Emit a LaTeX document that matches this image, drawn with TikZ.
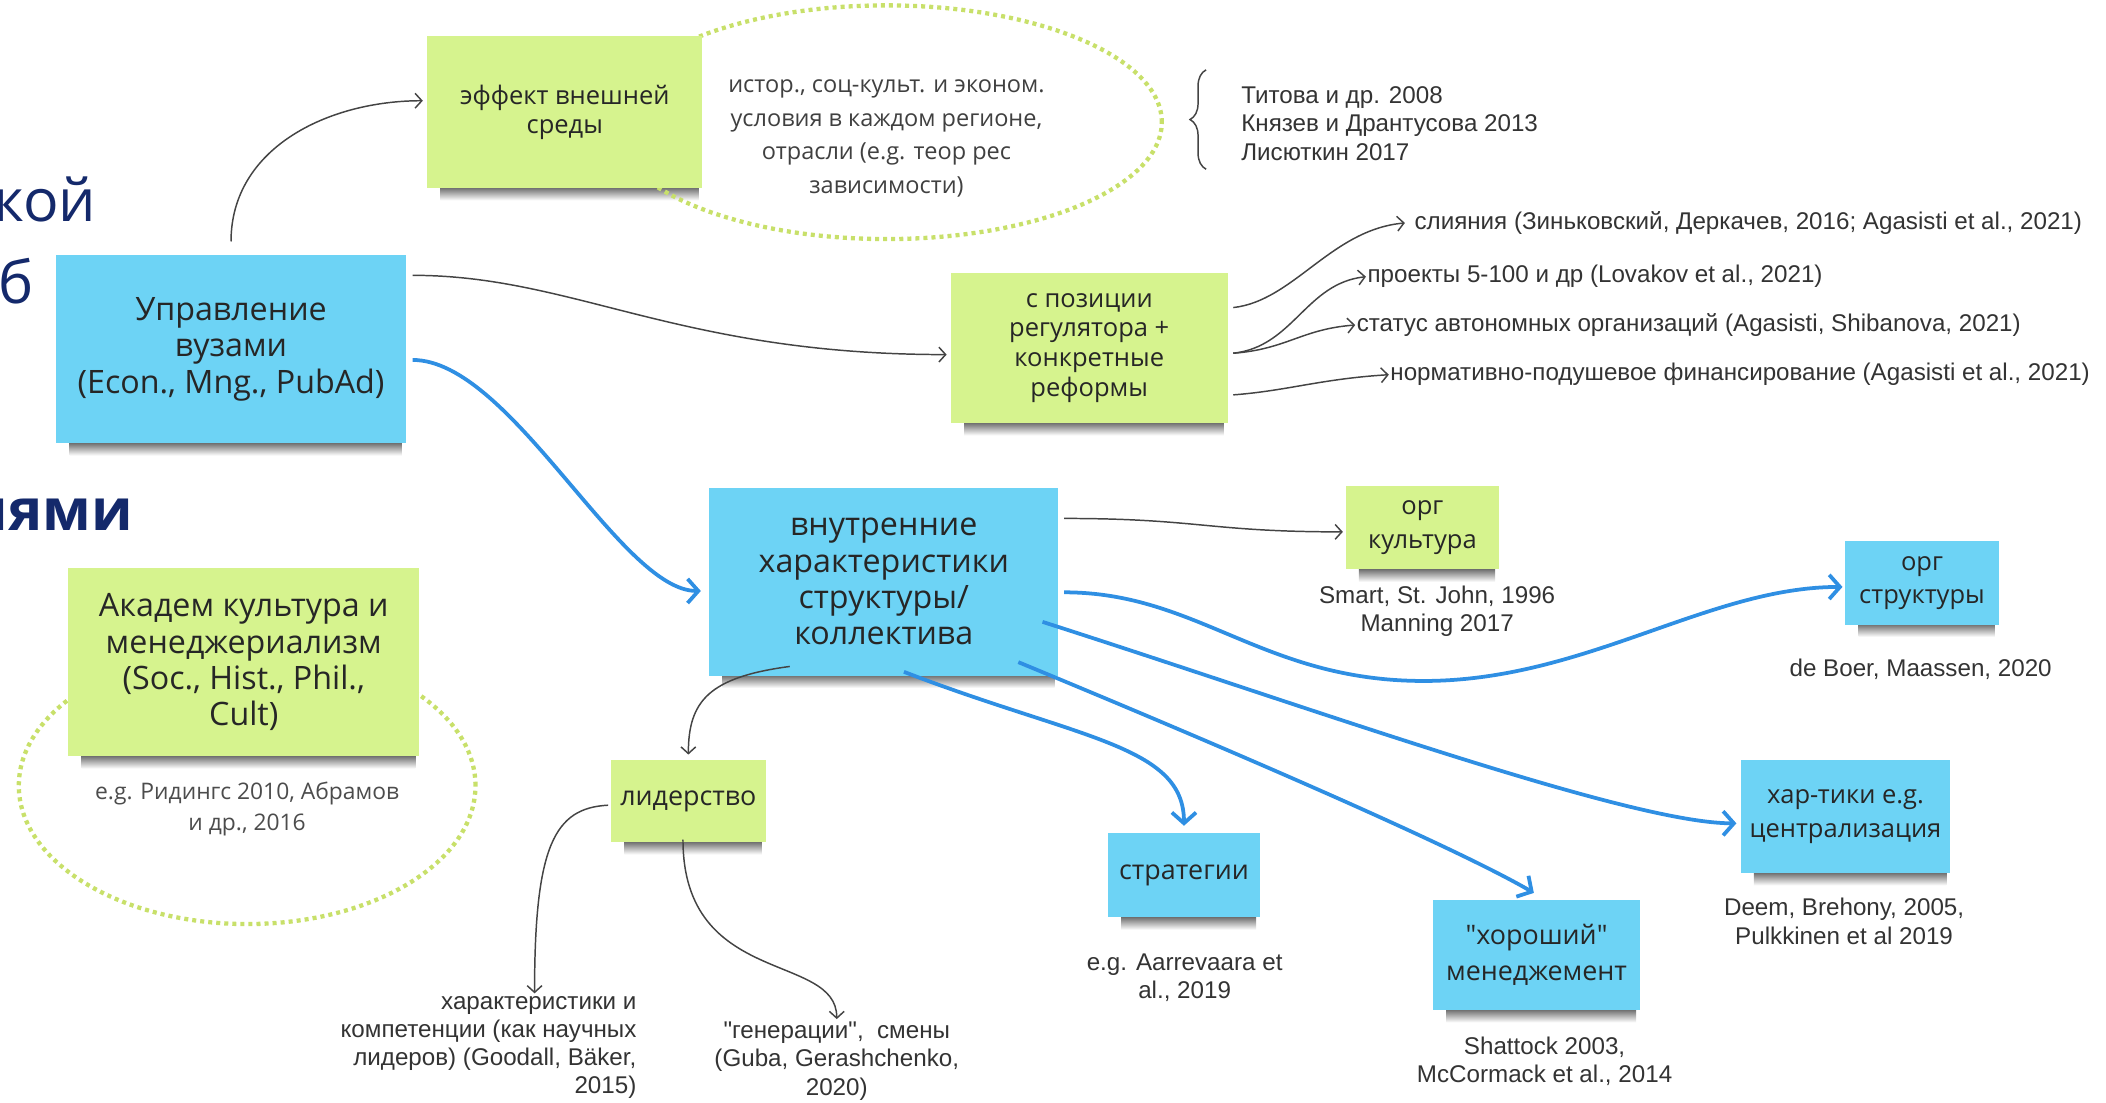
\documentclass[tikz,border=0pt]{standalone}
\usepackage{fontspec}
\setmainfont{Open Sans}
\newfontfamily\notefont{Open Sans}
\newfontfamily\labfont{Liberation Sans}
\usetikzlibrary{arrows.meta,decorations.pathreplacing,calc}
\definecolor{noteblue}{HTML}{6DD3F5}
\definecolor{notegreen}{HTML}{D6F38E}
\definecolor{dotgreen}{HTML}{C8E06A}
\definecolor{arrowblue}{HTML}{2F8FE3}
\definecolor{titlenavy}{HTML}{14296B}
\definecolor{inkgray}{HTML}{444444}
\pgfdeclarelayer{bg}
\pgfsetlayers{bg,main}
\newcommand\fs[2]{\fontsize{#1}{#2}\selectfont}
\newcommand\noteshadow[1]{\begin{pgfonlayer}{bg}\shade[top color=black!60,bottom color=white] ([xshift=10pt,yshift=1pt]#1.south west) rectangle ([xshift=-3pt,yshift=-9pt]#1.south east);\end{pgfonlayer}}
\tikzset{
 note/.style={align=center, inner sep=0pt, text=black!85},
 bluenote/.style={note, fill=noteblue},
 greennote/.style={note, fill=notegreen},
 lab/.style={align=center, inner sep=0pt, text=black!80, font=\labfont\fs{18}{21}},
 thinarrow/.style={draw=inkgray, line width=1.1pt, -{Straight Barb[length=5pt,width=11pt]}},
 bluearrow/.style={draw=arrowblue, line width=2.8pt, -{Straight Barb[length=8pt,width=18pt]}},
 dotellipse/.style={draw=dotgreen, line width=3.2pt, dash pattern=on 3pt off 3pt},
 titletext/.style={inner sep=0pt, text=titlenavy, anchor=base east},
}
\begin{document}
\begin{tikzpicture}[x=1pt,y=-1pt]
\useasboundingbox (0,0) rectangle (1568,821);
\clip (0,0) rectangle (1568,821);

% title fragments
\node[titletext, font=\fs{44}{44}] (t1) at (72,165) {кой};
\node[titletext, font=\fs{44}{44}] (t2) at (25,226) {б};
\node[titletext, font=\bfseries\fs{43}{43}] (t3) at (99,395) {иями};

% dotted ellipses
\draw[dotellipse] (660,91) ellipse [x radius=205pt, y radius=87pt];
\draw[dotellipse] (184,585) ellipse [x radius=170pt, y radius=103pt];

% notes
\node[bluenote, minimum width=260pt, minimum height=140pt, font=\fs{24}{27}] (upr) at (172,260) {Управление\\вузами\\(Econ., Mng., PubAd)};
\node[greennote, minimum width=205pt, minimum height=113pt, font=\fs{19}{22}] (eff) at (420.5,83.5) {эффект внешней\\среды};
\node[greennote, minimum width=206pt, minimum height=112pt, font=\fs{19}{22}] (reg) at (811,259) {с позиции\\регулятора +\\конкретные\\реформы};
\node[bluenote, minimum width=260pt, minimum height=140pt, font=\fs{24}{27}] (vnut) at (658,433) {внутренние\\характеристики\\структуры/\\коллектива};
\node[greennote, minimum width=114pt, minimum height=62pt, font=\fs{19}{25}] (kult) at (1059,393) {орг\\культура};
\node[bluenote, minimum width=114pt, minimum height=62pt, font=\fs{19}{25}] (struct) at (1431,434) {орг\\структуры};
\node[bluenote, minimum width=156pt, minimum height=84pt, font=\fs{19}{25}] (hart) at (1374,608) {хар-тики e.g.\\централизация};
\node[bluenote, minimum width=154pt, minimum height=82pt, font=\notefont\fs{20}{27}] (good) at (1144,711) {"хороший"\\менеджемент};
\node[bluenote, minimum width=113pt, minimum height=63pt, font=\fs{20}{25}] (strat) at (881.5,651.5) {стратегии};
\node[greennote, minimum width=115pt, minimum height=61pt, font=\fs{20}{25}] (lid) at (512.5,596.5) {лидерство};
\node[greennote, minimum width=261pt, minimum height=140pt, font=\fs{24}{27}] (akad) at (181.5,493) {Академ культура и\\менеджериализм\\(Soc., Hist., Phil.,\\Cult)};

\foreach \n in {upr,eff,reg,vnut,kult,struct,hart,good,strat,lid,akad} {\noteshadow{\n}}

% free texts
\node[note, font=\fs{17.5}{25}, text=black!75] (envtext) at (660,103) {истор., соц-культ. и эконом.\\условия в каждом регионе,\\отрасли (e.g. теор рес\\зависимости)};
\node[note, font=\fs{17}{23}, text=black!70] (akadlab) at (184,602) {e.g. Ридингс 2010, Абрамов\\и др., 2016};
\node[lab, align=left, anchor=west] (lit) at (924,92) {Титова и др. 2008\\Князев и Дрантусова 2013\\Лисюткин 2017};
\draw[inkgray, line width=1.1pt, decorate, decoration={brace, amplitude=12pt}] (898,126) -- (898,52);

\node[lab, anchor=west] (r1) at (1053,166) {слияния (Зиньковский, Деркачев, 2016; Agasisti et al., 2021)};
\node[lab, anchor=west] (r2) at (1018,206) {проекты 5-100 и др (Lovakov et al., 2021)};
\node[lab, anchor=west] (r3) at (1010,242) {статус автономных организаций (Agasisti, Shibanova, 2021)};
\node[lab, anchor=west] (r4) at (1035,279) {нормативно-подушевое финансирование (Agasisti et al., 2021)};

\node[lab] (kultlab) at (1070,455) {Smart, St. John, 1996\\Manning 2017};
\node[lab] (structlab) at (1430,498) {de Boer, Maassen, 2020};
\node[lab] (hartlab) at (1373,686) {Deem, Brehony, 2005,\\Pulkkinen et al 2019};
\node[lab] (goodlab) at (1150,790) {Shattock 2003,\\McCormack et al., 2014};
\node[lab] (stratlab) at (882,728) {e.g. Aarrevaara et\\al., 2019};
\node[lab, align=right, anchor=east] (lidlab1) at (474,780) {характеристики и\\компетенции (как научных\\лидеров) (Goodall, Bäker,\\2015)};
\node[lab] (lidlab2) at (623,790) {"генерации",\ \ смены\\(Guba, Gerashchenko,\\2020)};

% thin connectors
\draw[thinarrow] ([yshift=10pt]upr.north) .. controls +(0,-70) and +(-70,0) .. ([xshift=-3pt,yshift=8.5pt]eff.west);
\draw[thinarrow] ([xshift=5pt,yshift=55pt]upr.east) .. controls +(120,0) and +(-200,0) .. ([xshift=-3pt,yshift=-5pt]reg.west);
\draw[thinarrow] ([xshift=4pt,yshift=30pt]reg.east) .. controls +(45,-5) and +(-55,5) .. ([xshift=-7pt]r1.west);
\draw[thinarrow] ([xshift=4pt,yshift=-4pt]reg.east) .. controls +(45,-5) and +(-45,5) .. ([xshift=-1pt]r2.west);
\draw[thinarrow] ([xshift=4pt,yshift=-4pt]reg.east) .. controls +(40,-3) and +(-40,3) .. ([xshift=-1pt]r3.west);
\draw[thinarrow] ([xshift=4pt,yshift=-35pt]reg.east) .. controls +(40,-3) and +(-50,3) .. ([xshift=-1pt]r4.west);
\draw[thinarrow] ([xshift=4pt,yshift=47pt]vnut.east) .. controls +(100,0) and +(-100,0) .. ([xshift=-2pt,yshift=-3pt]kult.west);
\draw[thinarrow] ([xshift=-70pt,yshift=7pt]vnut.south) .. controls +(-60,8) and +(0,-40) .. ([yshift=4pt]lid.north);
\draw[thinarrow] ([xshift=-2pt,yshift=-3pt]lid.west) .. controls +(-40,2) and +(0,-110) .. ([xshift=-76pt,yshift=2pt]lidlab1.north east);
\draw[thinarrow] ([xshift=-4pt,yshift=2pt]lid.south) .. controls +(0,110) and +(0,-50) .. ([yshift=2pt]lidlab2.north);

% blue connectors
\coordinate (dip) at (1060,507);
\draw[bluearrow] ([xshift=5pt,yshift=-8pt]upr.east) .. controls +(73,0) and +(-60,0) .. ([xshift=-6pt,yshift=-7pt]vnut.west);
\draw[bluearrow] ([xshift=4pt,yshift=-8pt]vnut.east) .. controls +(100,0) and +(-120,0) .. (dip) .. controls +(120,0) and +(-100,0) .. ([xshift=-2pt,yshift=-3pt]struct.west);
\draw[bluearrow] ([xshift=-12pt,yshift=-30pt]vnut.east) .. controls +(200,64) and +(-80,0) .. ([xshift=-3pt,yshift=-5pt]hart.west);
\draw[bluearrow] ([xshift=-30pt,yshift=-60pt]vnut.east) .. controls +(150,62) and +(-60,-35) .. ([xshift=-2pt,yshift=5pt]good.north);
\draw[bluearrow] ([xshift=15pt,yshift=3pt]vnut.south) .. controls +(130,50) and +(0,-60) .. ([yshift=5pt]strat.north);
\end{tikzpicture}
\end{document}
